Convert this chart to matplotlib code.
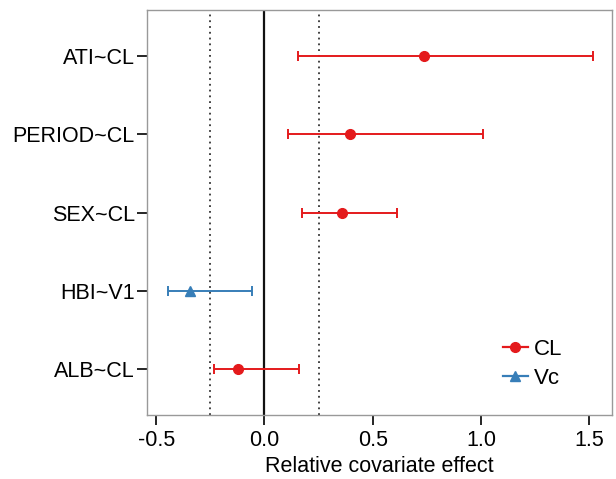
import matplotlib
matplotlib.use('Agg')
import matplotlib.pyplot as plt
import numpy as np

plt.rcParams['font.family'] = ['Liberation Sans', 'DejaVu Sans']

# covariate effects, top to bottom
labels = ['ATI~CL', 'PERIOD~CL', 'SEX~CL', 'HBI~V1', 'ALB~CL']
groups = ['CL', 'CL', 'CL', 'Vc', 'CL']
est = [0.738, 0.394, 0.357, -0.345, -0.122]
lo = [0.156, 0.107, 0.175, -0.447, -0.231]
hi = [1.516, 1.008, 0.614, -0.057, 0.161]
ref_lines = [-0.25, 0.25]
xticks = [-0.5, 0.0, 0.5, 1.0, 1.5]

styles = {'CL': ('#E41A1C', 'o'), 'Vc': ('#377EB8', '^')}

fig = plt.figure(figsize=(6.16, 4.79), dpi=100)
ax = fig.add_axes([0.239, 0.1336, 0.754, 0.8454])

ypos = np.arange(len(labels))[::-1] + 1

for r in ref_lines:
    ax.axvline(r, color='#333333', lw=1.3, ls=(0, (1, 2.2)), zorder=1)
ax.axvline(0, color='#111111', lw=1.6, zorder=1)

for y, g, e, l, h in zip(ypos, groups, est, lo, hi):
    c, m = styles[g]
    ax.errorbar(e, y, xerr=[[e - l], [h - e]], fmt=m, color=c, ms=7,
                lw=1.4, capsize=3.5, capthick=1.4, zorder=3)

leg_h = []
for g in ['CL', 'Vc']:
    c, m = styles[g]
    leg_h.append(plt.Line2D([], [], color=c, marker=m, ms=7, lw=1.6))
ax.legend(leg_h, ['CL', 'Vc'], loc='upper left', frameon=False, fontsize=16,
          handlelength=1.1, handletextpad=0.3, labelspacing=0.35,
          bbox_to_anchor=(0.7235, 0.237))

ax.set_xlim(-0.5417, 1.604)
ax.set_ylim(0.41, 5.59)
ax.set_yticks(ypos)
ax.set_yticklabels(labels)
ax.set_xticks(xticks)
ax.set_xticklabels([f'{t:.1f}' for t in xticks])
ax.tick_params(labelsize=15.5, length=7, width=1.2, color='black',
               direction='out')
ax.tick_params(axis='y', pad=2)
for s in ax.spines.values():
    s.set_color('#999999')
    s.set_linewidth(1.0)
ax.set_xlabel('Relative covariate effect', fontsize=15.5, labelpad=4)

fig.savefig('out.png', dpi=100)
